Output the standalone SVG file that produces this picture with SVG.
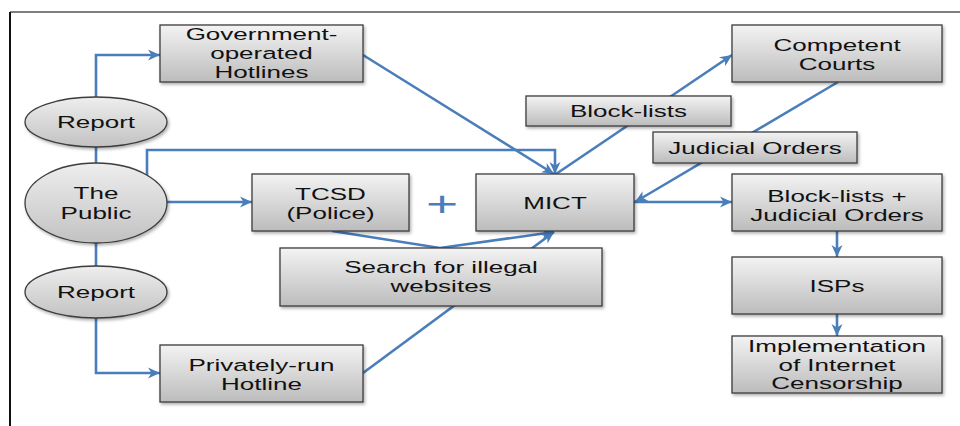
<svg xmlns="http://www.w3.org/2000/svg" width="960" height="426" viewBox="0 0 960 426">
<style>
.box{fill:url(#gb);stroke:#3c3c3c;stroke-width:1.3;filter:url(#sh)}
.ell{fill:url(#ge);stroke:#3c3c3c;stroke-width:1.3;filter:url(#sh)}
.t{font-family:"Liberation Sans",Arial,sans-serif;font-size:17px;fill:#111;text-anchor:middle}
.c{fill:none;stroke:#4a7ebb;stroke-width:2.6;stroke-linejoin:miter}
.a{marker-end:url(#ar)}
</style>
<defs>
<linearGradient id="gb" x1="0" y1="0" x2="0" y2="1">
<stop offset="0" stop-color="#f3f3f3"/><stop offset="1" stop-color="#bcbcbc"/>
</linearGradient>
<linearGradient id="ge" x1="0" y1="0" x2="0" y2="1">
<stop offset="0" stop-color="#eeeeee"/><stop offset="1" stop-color="#c2c2c2"/>
</linearGradient>
<filter id="sh" x="-10%" y="-10%" width="130%" height="140%">
<feDropShadow dx="1.5" dy="2" stdDeviation="1.5" flood-color="#000" flood-opacity="0.3"/>
</filter>
<marker id="ar" markerUnits="userSpaceOnUse" markerWidth="14" markerHeight="12" refX="12" refY="6" orient="auto">
<path d="M0,0.5 L12,6 L0,11.5 L3.5,6 Z" fill="#4a7ebb"/>
</marker>
</defs>
<rect width="960" height="426" fill="#fff"/>
<g id="frame">
<line x1="10" y1="12" x2="960" y2="12" stroke="#555" stroke-width="1.5"/>
<line x1="10" y1="12" x2="10" y2="426" stroke="#111" stroke-width="2"/>
</g>
<g id="connectors">
<path class="c a" d="M96,97 V55 H160"/>
<path class="c" d="M96,147 V163"/>
<path class="c" d="M96,243 V266"/>
<path class="c a" d="M96,318 V373 H160"/>
<path class="c a" d="M167,202 H252"/>
<path class="c a" d="M147,176 V150 H555 V174"/>
<path class="c a" d="M363,55 L554,174"/>
<path class="c a" d="M556,174 L732,55"/>
<path class="c a" d="M838,82 L635,202"/>
<path class="c a" d="M634,202 H732"/>
<path class="c a" d="M332,231 L440,248 L554,232"/>
<path class="c a" d="M363,373 L554,232"/>
<path class="c a" d="M837,231 V257"/>
<path class="c a" d="M837,314 V336"/>
</g>
<g id="gov">
<rect class="box" x="160" y="25" width="203" height="57"/>
<text class="t" transform="translate(261.5 0) scale(1.53 1)"><tspan x="0" y="40">Government-</tspan><tspan x="0" y="59">operated</tspan><tspan x="0" y="78">Hotlines</tspan></text>
</g>
<g id="report1">
<ellipse class="ell" cx="96" cy="122" rx="71" ry="25"/>
<text class="t" transform="translate(96 0) scale(1.53 1)"><tspan x="0" y="128">Report</tspan></text>
</g>
<g id="public">
<ellipse class="ell" cx="96" cy="203" rx="71" ry="40"/>
<text class="t" transform="translate(96 0) scale(1.53 1)"><tspan x="0" y="199">The</tspan><tspan x="0" y="219">Public</tspan></text>
</g>
<g id="report2">
<ellipse class="ell" cx="96" cy="292" rx="71" ry="26"/>
<text class="t" transform="translate(96 0) scale(1.53 1)"><tspan x="0" y="298">Report</tspan></text>
</g>
<g id="private">
<rect class="box" x="160" y="345" width="203" height="57"/>
<text class="t" transform="translate(261.5 0) scale(1.53 1)"><tspan x="0" y="371">Privately-run</tspan><tspan x="0" y="390">Hotline</tspan></text>
</g>
<g id="tcsd">
<rect class="box" x="252" y="174" width="157" height="57"/>
<text class="t" transform="translate(330.5 0) scale(1.53 1)"><tspan x="0" y="200">TCSD</tspan><tspan x="0" y="219">(Police)</tspan></text>
</g>
<g id="plus">
<text class="t" style="font-size:36px;fill:#4a7ebb" transform="translate(442 0) scale(1.53 1)"><tspan x="0" y="216">+</tspan></text>
</g>
<g id="mict">
<rect class="box" x="476" y="174" width="158" height="57"/>
<text class="t" transform="translate(555 0) scale(1.53 1)"><tspan x="0" y="209">MICT</tspan></text>
</g>
<g id="search">
<rect class="box" x="280" y="248" width="322" height="58"/>
<text class="t" transform="translate(441 0) scale(1.53 1)"><tspan x="0" y="273">Search for illegal</tspan><tspan x="0" y="292">websites</tspan></text>
</g>
<g id="courts">
<rect class="box" x="732" y="25" width="210" height="57"/>
<text class="t" transform="translate(837 0) scale(1.53 1)"><tspan x="0" y="51">Competent</tspan><tspan x="0" y="70">Courts</tspan></text>
</g>
<g id="blocklists">
<rect class="box" x="526" y="96" width="205" height="30"/>
<text class="t" transform="translate(628.5 0) scale(1.53 1)"><tspan x="0" y="117">Block-lists</tspan></text>
</g>
<g id="judicial">
<rect class="box" x="653" y="132" width="204" height="31"/>
<text class="t" transform="translate(755 0) scale(1.53 1)"><tspan x="0" y="154">Judicial Orders</tspan></text>
</g>
<g id="bljo">
<rect class="box" x="732" y="174" width="210" height="57"/>
<text class="t" transform="translate(837 0) scale(1.53 1)"><tspan x="0" y="202">Block-lists +</tspan><tspan x="0" y="221">Judicial Orders</tspan></text>
</g>
<g id="isps">
<rect class="box" x="732" y="257" width="210" height="57"/>
<text class="t" transform="translate(837 0) scale(1.53 1)"><tspan x="0" y="292">ISPs</tspan></text>
</g>
<g id="impl">
<rect class="box" x="732" y="336" width="210" height="57"/>
<text class="t" transform="translate(837 0) scale(1.53 1)"><tspan x="0" y="352">Implementation</tspan><tspan x="0" y="371">of Internet</tspan><tspan x="0" y="389">Censorship</tspan></text>
</g>
</svg>
